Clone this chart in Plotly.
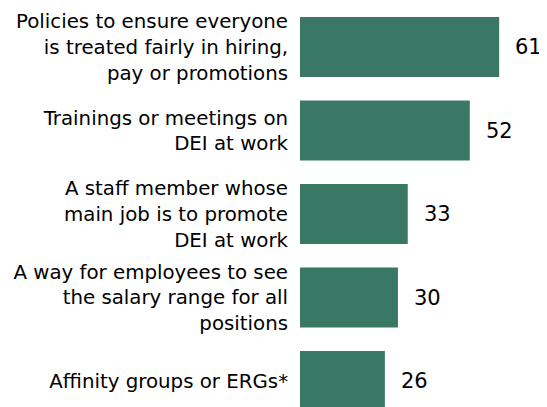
import plotly.graph_objects as go

categories = [
    "Policies to ensure everyone<br>is treated fairly in hiring,<br>pay or promotions",
    "Trainings or meetings on<br>DEI at work",
    "A staff member whose<br>main job is to promote<br>DEI at work",
    "A way for employees to see<br>the salary range for all<br>positions",
    "Affinity groups or ERGs*",
]
values = [61, 52, 33, 30, 26]

bar_color = "#3a7866"
label_font = "DejaVu Sans, Verdana, sans-serif"

fig = go.Figure()
fig.add_trace(go.Bar(
    x=values,
    y=categories,
    orientation="h",
    marker=dict(color=bar_color, line=dict(width=0)),
    hoverinfo="skip",
))

for c, v in zip(categories, values):
    fig.add_annotation(
        x=v, y=c, text=str(v), showarrow=False,
        xanchor="left", yanchor="middle", xshift=14,
        font=dict(family=label_font, size=21, color="#000000"),
    )

fig.update_layout(
    width=539, height=399,
    margin=dict(l=292, r=0, t=0, b=0),
    paper_bgcolor="white", plot_bgcolor="white",
    bargap=0.28,
    showlegend=False,
    font=dict(family=label_font, size=19.8, color="#000000"),
)
fig.update_xaxes(range=[0, 75.65], visible=False, fixedrange=True)
fig.update_yaxes(
    type="category",
    range=[4.311, -0.467],
    showgrid=False, zeroline=False, showline=False,
    ticks="outside", ticklen=0, tickcolor="white",
    ticklabelstandoff=7,
    tickfont=dict(family=label_font, size=19.8, color="#000000"),
    fixedrange=True,
)

fig.write_html("out.html")
